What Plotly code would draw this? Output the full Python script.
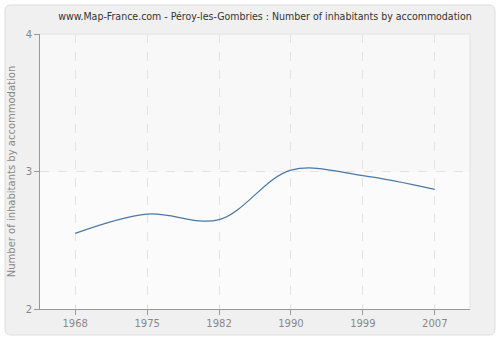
import plotly.graph_objects as go

years = ["1968", "1975", "1982", "1990", "1999", "2007"]
values = [2.55, 2.69, 2.65, 3.01, 2.97, 2.87]
y_ticks = [2, 3, 4]

W, H = 500, 340
L, R, T, B = 40, 30, 34, 31

fig = go.Figure()
fig.add_trace(go.Scatter(
    x=years, y=values, mode="lines",
    line=dict(color="#4a77a8", width=1.2, shape="spline", smoothing=1.0),
    hoverinfo="x+y", showlegend=False,
))

shapes = []
px = lambda x: (x - L) / (W - L - R)
py = lambda y: (H - B - y) / (H - T - B)
x0, x1 = px(5), px(495)
y0, y1 = py(335), py(5)
rx = 6 / (W - L - R)
ry = 6 / (H - T - B)
path = (f"M{x0+rx},{y0} L{x1-rx},{y0} Q{x1},{y0} {x1},{y0+ry} "
        f"L{x1},{y1-ry} Q{x1},{y1} {x1-rx},{y1} L{x0+rx},{y1} "
        f"Q{x0},{y1} {x0},{y1-ry} L{x0},{y0+ry} Q{x0},{y0} {x0+rx},{y0} Z")
shapes.append(dict(type="path", path=path, xref="paper", yref="paper",
                   fillcolor="#f0f0f0", line=dict(color="#dcdcdc", width=1), layer="below"))
shapes.append(dict(type="rect", xref="paper", yref="y", x0=0, x1=1, y0=3, y1=4,
                   fillcolor="#f8f8f8", line=dict(width=0), layer="below"))
shapes.append(dict(type="rect", xref="paper", yref="y", x0=0, x1=1, y0=2, y1=3,
                   fillcolor="#fbfbfb", line=dict(width=0), layer="below"))
shapes.append(dict(type="line", xref="paper", yref="paper", x0=0, x1=1, y0=1, y1=1,
                   line=dict(color="#e2e2e2", width=1)))
shapes.append(dict(type="line", xref="paper", yref="paper", x0=1, x1=1, y0=0, y1=1,
                   line=dict(color="#e2e2e2", width=1)))

fig.update_layout(
    width=W, height=H,
    margin=dict(l=L, r=R, t=T, b=B),
    paper_bgcolor="white", plot_bgcolor="rgba(0,0,0,0)",
    font=dict(family="DejaVu Sans, Verdana, sans-serif", size=10, color="#888888"),
    title=dict(text="www.Map-France.com - Péroy-les-Gombries : Number of inhabitants by accommodation",
               x=0.53, xanchor="center", y=0.952, yanchor="middle",
               font=dict(family="DejaVu Sans Condensed, DejaVu Sans, sans-serif",
                         size=10.5, color="#333333")),
    shapes=shapes,
    xaxis=dict(type="category", range=[-0.49, 5.49], showline=True, linecolor="#999999",
               linewidth=1, ticks="outside", ticklen=5, tickcolor="#999999",
               showgrid=True, gridcolor="#e3e3e3", griddash="dash", zeroline=False,
               tickfont=dict(size=10, color="#888888")),
    yaxis=dict(range=[2, 4], tickvals=y_ticks, showline=True, linecolor="#999999",
               linewidth=1, ticks="outside", ticklen=5, tickcolor="#999999",
               showgrid=True, gridcolor="#e3e3e3", griddash="dash", zeroline=False,
               tickfont=dict(size=10, color="#888888"),
               title=dict(text="Number of inhabitants by accommodation", standoff=8,
                          font=dict(size=10, color="#888888"))),
)

fig.write_html("out.html")
